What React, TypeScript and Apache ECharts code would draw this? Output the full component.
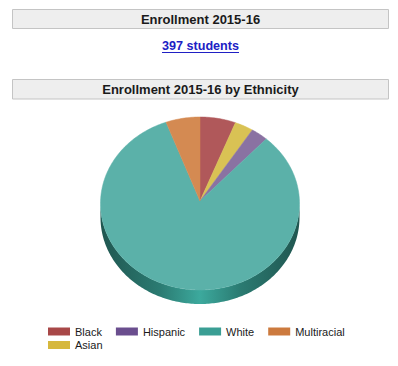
import React, { useEffect, useRef } from "react";
import * as echarts from "echarts";

const categories = ["Black", "Asian", "Hispanic", "White", "Multiracial"];
const students = [23, 12, 11, 329, 22];
const legendRow1 = ["Black", "Hispanic", "White", "Multiracial"];
const legendRow2 = ["Asian"];
const legendColors = ["#a84848", "#d6b83e", "#6a4e8e", "#3a9e94", "#cc7a3e"];
const faceColors = ["#b0585a", "#d9c254", "#8a72a2", "#5bb1a9", "#d48a52"];
const titleText = "Enrollment 2015-16";
const totalText = "397 students";
const pieTitle = "Enrollment 2015-16 by Ethnicity";

const FONT = "'Liberation Sans', Arial, sans-serif";

export default function App() {
  const ref = useRef<HTMLDivElement>(null);
  useEffect(() => {
    document.body.style.margin = "0";
    const chart = echarts.init(ref.current!, null, { renderer: "svg" });
    const total = students.reduce((a, b) => a + b, 0);
    const cx = 200, cy = 203.5, rx = 99.5, ry = 86.5, depth = 14;
    const apexY = 201;
    const pt = (t: number, dy = 0) => [cx + rx * Math.sin(t), cy - ry * Math.cos(t) + dy];
    const arc = (a: number, b: number, dy = 0) => {
      const n = Math.max(2, Math.ceil(((b - a) * 180) / Math.PI));
      const out: number[][] = [];
      for (let k = 0; k <= n; k++) out.push(pt(a + ((b - a) * k) / n, dy));
      return out;
    };
    const makeRender = (i: number) => (params: any, api: any) => {
      const v = api.value(0);
      let before = 0;
      for (let k = 0; k < i; k++) before += students[k];
      const a0 = (before / total) * Math.PI * 2;
      const a1 = ((before + v) / total) * Math.PI * 2;
      const children: any[] = [];
      const s = Math.max(a0, Math.PI / 2);
      const e = Math.min(a1, (Math.PI * 3) / 2);
      if (s < e) {
        const up = arc(s, e);
        const low = arc(s, e, depth).reverse();
        children.push({
          type: "polygon",
          z2: 1,
          shape: { points: up.concat(low) },
          style: {
            fill: new echarts.graphic.LinearGradient(
              cx - rx, 0, cx + rx, 0,
              [
                { offset: 0, color: "#205650" },
                { offset: 0.3, color: "#2b7b72" },
                { offset: 0.5, color: "#3ca99d" },
                { offset: 0.7, color: "#2b7b72" },
                { offset: 1, color: "#205650" },
              ],
              true
            ),
          },
        });
      }
      children.push({
        type: "polygon",
        z2: 10,
        shape: { points: [[cx, apexY]].concat(arc(a0, a1)) },
        style: { fill: faceColors[i], stroke: faceColors[i], lineWidth: 0.5 },
      });
      return { type: "group", children };
    };

    const legendBase = {
      orient: "horizontal",
      itemWidth: 22,
      itemHeight: 8,
      itemGap: 14,
      padding: 0,
      icon: "rect",
      selectedMode: false,
      textStyle: { fontSize: 11, color: "#1a1a1a", fontFamily: FONT },
    };

    chart.setOption({
      animation: false,
      legend: [
        { ...legendBase, data: legendRow1, left: 48, top: 326 },
        { ...legendBase, data: legendRow2, left: 48, top: 339.5 },
      ],
      graphic: [
        { type: "rect", shape: { x: 12.5, y: 9.5, width: 376, height: 19 }, style: { fill: "#eeeeee", stroke: "#c4c4c4", lineWidth: 1 } },
        { type: "text", style: { text: titleText, x: 200.5, y: 19, align: "center", verticalAlign: "middle", font: `bold 13px ${FONT}`, fill: "#1a1a1a" } },
        { type: "text", style: { text: totalText, x: 200.5, y: 46, align: "center", verticalAlign: "middle", font: `bold 12.6px ${FONT}`, fill: "#2020c4" } },
        { type: "line", shape: { x1: 162, y1: 52.5, x2: 239, y2: 52.5 }, style: { stroke: "#2020c4", lineWidth: 1 } },
        { type: "rect", shape: { x: 12.5, y: 79.5, width: 376, height: 19.5 }, style: { fill: "#eeeeee", stroke: "#c4c4c4", lineWidth: 1 } },
        { type: "text", style: { text: pieTitle, x: 200.5, y: 89.5, align: "center", verticalAlign: "middle", font: `bold 13px ${FONT}`, fill: "#1a1a1a" } },
      ],
      series: categories.map((name, i) => ({
        type: "custom",
        name,
        coordinateSystem: "none",
        silent: true,
        itemStyle: { color: legendColors[i] },
        data: [[students[i]]],
        renderItem: makeRender(i),
      })),
    });
    return () => chart.dispose();
  }, []);
  return <div ref={ref} style={{ width: 398, height: 366 }} />;
}
